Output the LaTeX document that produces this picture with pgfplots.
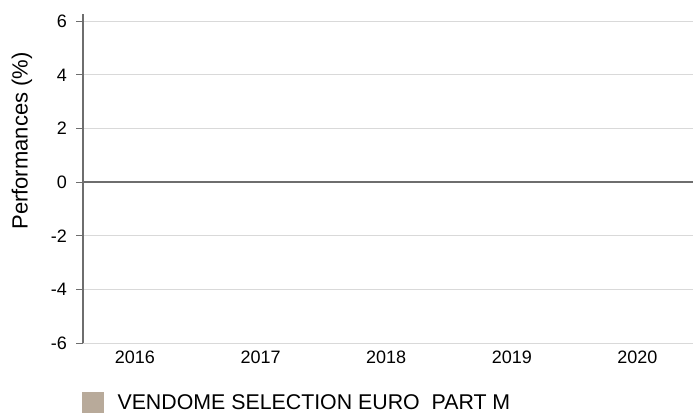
\documentclass[border=0pt]{standalone}
\usepackage{pgfplots}
\pgfplotsset{compat=1.18}
\usepackage{fontspec}
\setmainfont{Liberation Sans}
\definecolor{legc}{HTML}{B8AA9A}
\definecolor{gridc}{HTML}{D9D9D9}
\definecolor{axc}{HTML}{6E6E6E}
\begin{document}
\begin{tikzpicture}[x=1pt,y=1pt]
\begin{axis}[
  at={(0,0)}, anchor=south west,
  scale only axis, width=457.5pt, height=246.75pt,
  xmin=-0.414, xmax=4.443, ymin=-6, ymax=6.27,
  xtick={0,1,2,3,4}, xticklabels={2016,2017,2018,2019,2020},
  ytick={-6,-4,-2,0,2,4,6},
  /pgf/number format/assume math mode=true,
  ticklabel style={font=\fontsize{13.5}{15}\selectfont, text=black},
  ylabel={Performances (\%)},
  ylabel style={font=\fontsize{16.5}{18}\selectfont, at={(axis description cs:-0.1,0.614)}, anchor=center},
  axis x line*=bottom, axis y line*=left,
  x axis line style={draw=gridc, line width=0.75pt, -},
  y axis line style={draw=axc, line width=1pt, -},
  ymajorgrids, grid style={draw=gridc, line width=0.75pt},
  major x tick style={draw=none},
  major y tick style={draw=axc, line width=0.6pt},
  tick align=outside, major tick length=5pt,
  yticklabel style={xshift=-3.5pt},
  xticklabel style={yshift=2.5pt},
  extra y ticks={0}, extra y tick labels={},
  extra y tick style={grid style={draw=axc, line width=1.2pt}, major tick length=0pt},
  legend style={at={(rel axis cs:0,0)}, anchor=north west, xshift=-0.75pt, yshift=-36.75pt, draw=none, fill=none,
    font=\fontsize{16}{18}\selectfont, inner sep=0pt, outer sep=0pt,
    nodes={inner sep=0pt}},
  legend cell align=left,
]
\addlegendimage{legend image code/.code={\fill[legc] (0pt,-7.9pt) rectangle (15.75pt,7.9pt);}}
\addlegendentry{\hspace{10.5pt}VENDOME SELECTION EURO\ \ PART M}
\end{axis}
\pgfresetboundingbox
\useasboundingbox (-62.25,-51.75) rectangle (457.5,257.25);
\end{tikzpicture}
\end{document}
